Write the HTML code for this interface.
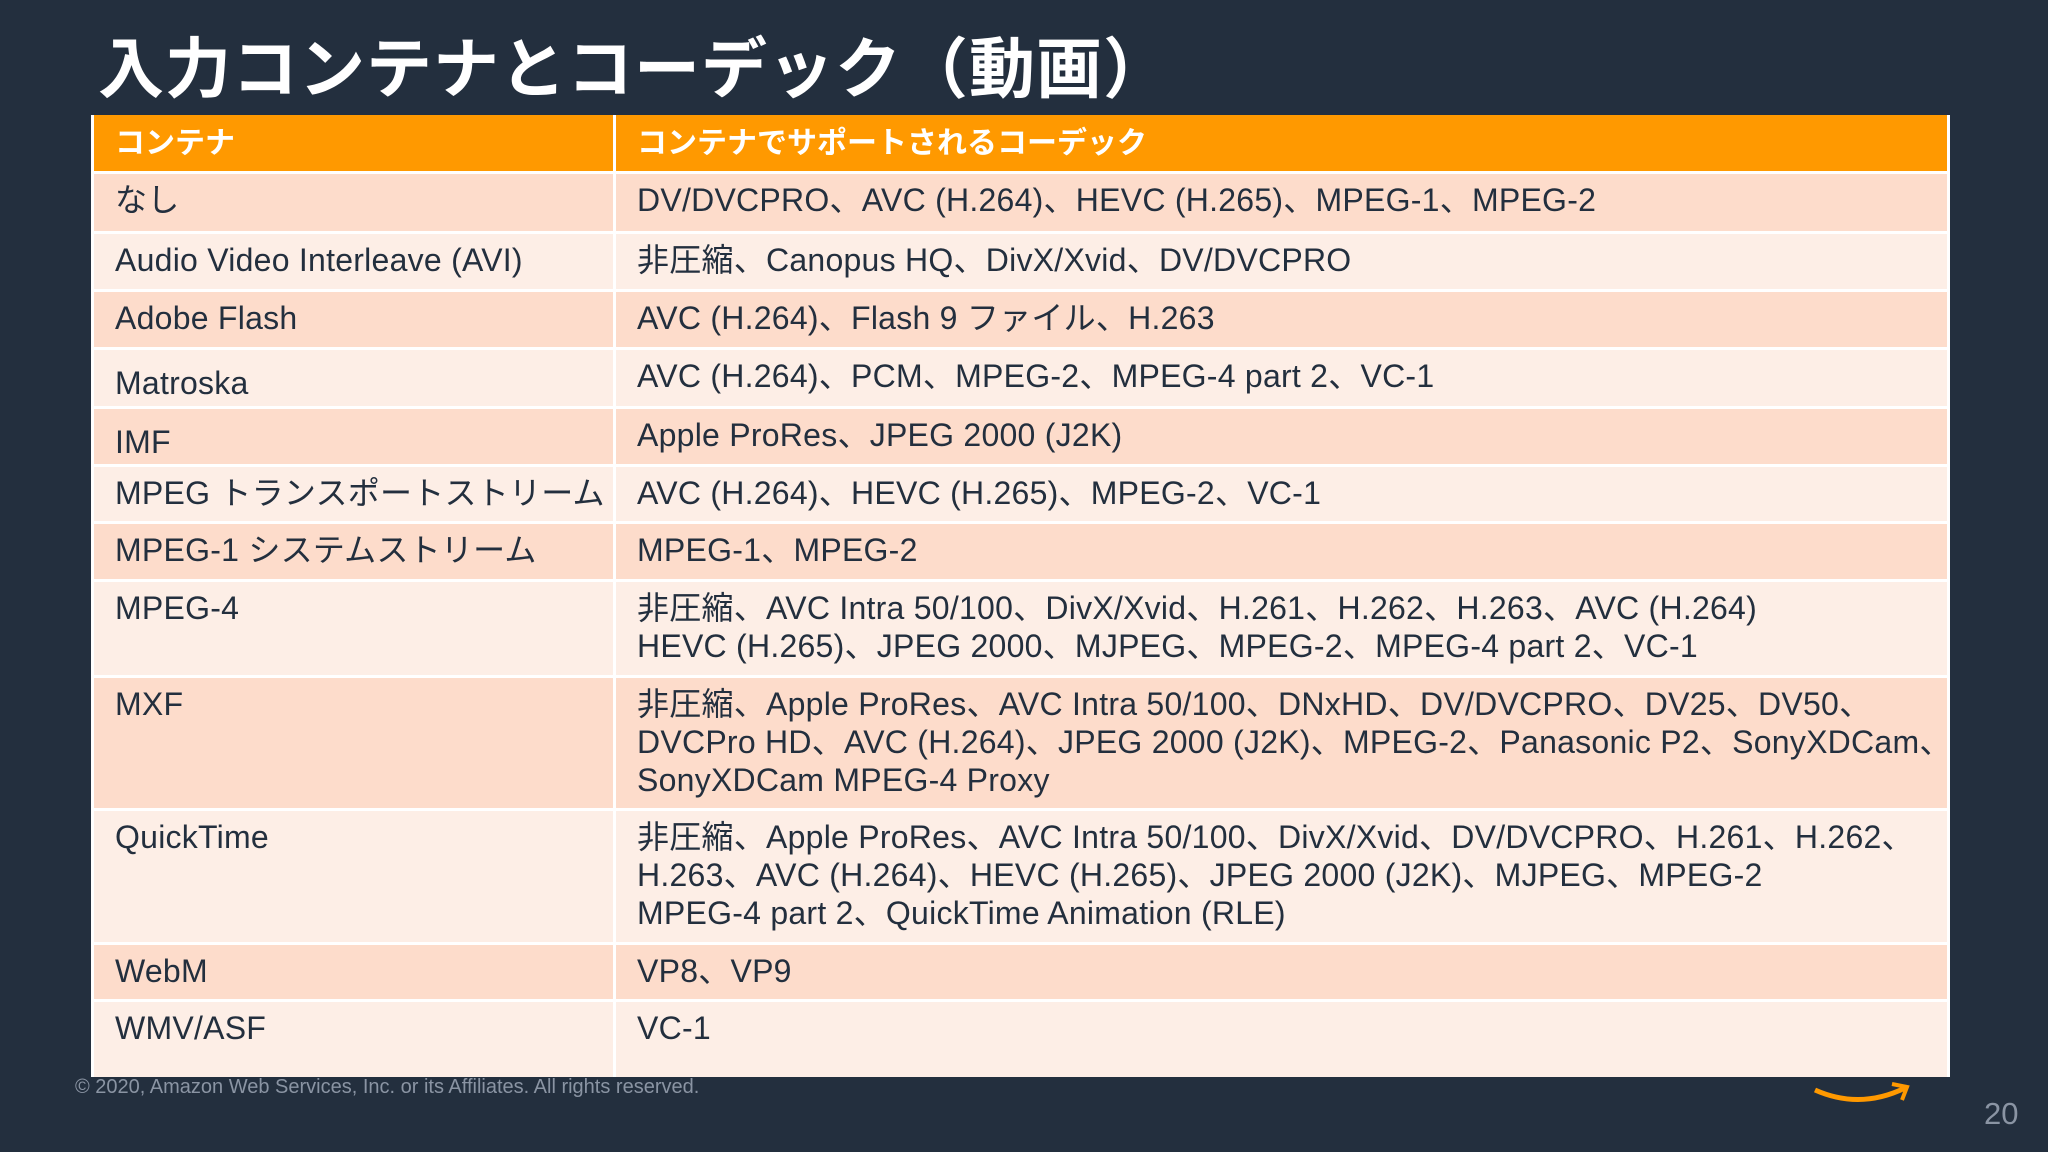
<!DOCTYPE html>
<html><head><meta charset="utf-8">
<style>
body{margin:0;width:2048px;height:1152px;background:#232f3e;position:relative;overflow:hidden;font-family:"Liberation Sans","Noto Sans CJK JP",sans-serif;}
.title{position:absolute;left:98px;top:16px;font-size:66px;font-weight:bold;color:#fff;letter-spacing:1px;}
.tbl{position:absolute;left:91px;top:115px;width:1859px;height:962px;background:#fff;}
.row{position:absolute;left:0;width:1859px;}
.c{position:absolute;top:3px;bottom:0;box-sizing:border-box;padding:7px 0 0 21px;font-size:32px;line-height:38px;color:#232f3e;letter-spacing:0.25px;white-space:nowrap;overflow:hidden;}
.c1{left:3px;width:519px;}
.c2{left:525px;right:3px;}
.hd .c{background:#ff9900;color:#fff;font-weight:bold;font-size:30px;padding-top:10px;letter-spacing:0;}
.d .c{background:#fddccb;}
.l .c{background:#fdeee6;}
.copy{position:absolute;left:75px;top:1076px;font-size:20px;color:#8a94a3;}
.pg{position:absolute;left:1984px;top:1096px;font-size:31px;color:#8a94a3;}
</style></head><body>
<div class="title">入力コンテナとコーデック（動画）</div>
<svg style="position:absolute;left:1810px;top:1060px" width="110" height="60"><path d="M5 30 Q50 50 95 28" stroke="#ff9900" stroke-width="5" fill="none"/><path d="M82 24 L97 27 L92 40" stroke="#ff9900" stroke-width="4" fill="none"/></svg>
<div class="tbl">
<div class="row hd" style="top:-3px;height:59px"><div class="c c1">コンテナ</div><div class="c c2">コンテナでサポートされるコーデック</div></div>
<div class="row d" style="top:56px;height:60px"><div class="c c1">なし</div><div class="c c2">DV/DVCPRO、AVC (H.264)、HEVC (H.265)、MPEG-1、MPEG-2</div></div>
<div class="row l" style="top:116px;height:58px"><div class="c c1">Audio Video Interleave (AVI)</div><div class="c c2">非圧縮、Canopus HQ、DivX/Xvid、DV/DVCPRO</div></div>
<div class="row d" style="top:174px;height:58px"><div class="c c1">Adobe Flash</div><div class="c c2">AVC (H.264)、Flash 9 ファイル、H.263</div></div>
<div class="row l" style="top:232px;height:59px"><div class="c c1" style="padding-top:14px">Matroska</div><div class="c c2">AVC (H.264)、PCM、MPEG-2、MPEG-4 part 2、VC-1</div></div>
<div class="row d" style="top:291px;height:58px"><div class="c c1" style="padding-top:14px">IMF</div><div class="c c2">Apple ProRes、JPEG 2000 (J2K)</div></div>
<div class="row l" style="top:349px;height:57px"><div class="c c1">MPEG トランスポートストリーム</div><div class="c c2">AVC (H.264)、HEVC (H.265)、MPEG-2、VC-1</div></div>
<div class="row d" style="top:406px;height:58px"><div class="c c1">MPEG-1 システムストリーム</div><div class="c c2">MPEG-1、MPEG-2</div></div>
<div class="row l" style="top:464px;height:96px"><div class="c c1">MPEG-4</div><div class="c c2">非圧縮、AVC Intra 50/100、DivX/Xvid、H.261、H.262、H.263、AVC (H.264)<br>HEVC (H.265)、JPEG 2000、MJPEG、MPEG-2、MPEG-4 part 2、VC-1</div></div>
<div class="row d" style="top:560px;height:133px"><div class="c c1">MXF</div><div class="c c2">非圧縮、Apple ProRes、AVC Intra 50/100、DNxHD、DV/DVCPRO、DV25、DV50、<br>DVCPro HD、AVC (H.264)、JPEG 2000 (J2K)、MPEG-2、Panasonic P2、SonyXDCam、<br>SonyXDCam MPEG-4 Proxy</div></div>
<div class="row l" style="top:693px;height:134px"><div class="c c1">QuickTime</div><div class="c c2">非圧縮、Apple ProRes、AVC Intra 50/100、DivX/Xvid、DV/DVCPRO、H.261、H.262、<br>H.263、AVC (H.264)、HEVC (H.265)、JPEG 2000 (J2K)、MJPEG、MPEG-2<br>MPEG-4 part 2、QuickTime Animation (RLE)</div></div>
<div class="row d" style="top:827px;height:57px"><div class="c c1">WebM</div><div class="c c2">VP8、VP9</div></div>
<div class="row l" style="top:884px;height:78px"><div class="c c1">WMV/ASF</div><div class="c c2">VC-1</div></div>
</div>
<div class="copy">© 2020, Amazon Web Services, Inc. or its Affiliates. All rights reserved.</div>
<div class="pg">20</div>
</body></html>
